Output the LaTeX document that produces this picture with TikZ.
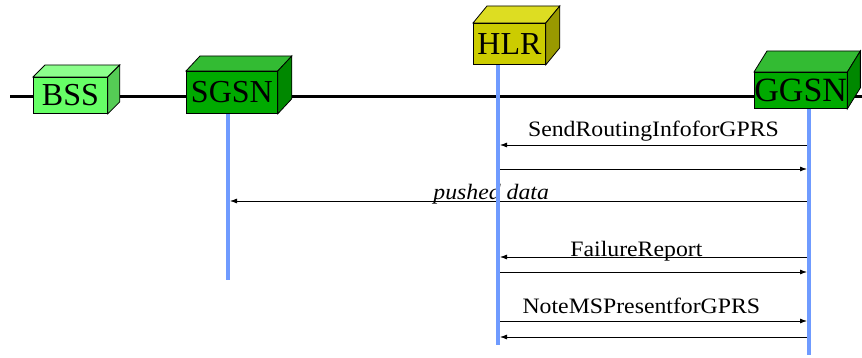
\documentclass[tikz,border=0pt]{standalone}
\usepackage{fontspec}
\setmainfont{Liberation Serif}
\newfontfamily\msgfont[FakeStretch=1.08]{Liberation Serif}
\usetikzlibrary{arrows.meta,positioning}
\definecolor{colorBSS}{HTML}{66FF66}
\definecolor{colorBSStop}{HTML}{8CFF8C}
\definecolor{colorBSSside}{HTML}{55CC55}
\definecolor{colorGSN}{HTML}{00AA00}
\definecolor{colorGSNtop}{HTML}{33BB33}
\definecolor{colorGSNside}{HTML}{008800}
\definecolor{colorHLR}{HTML}{CCCC00}
\definecolor{colorHLRtop}{HTML}{DDDD22}
\definecolor{colorHLRside}{HTML}{999900}
\definecolor{colorLife}{HTML}{6F9BFF}
\newcommand{\boxsides}[4]{%
  \filldraw[fill=#2, line width=0.8pt] (#1.north west) -- ++(#4) -- ([shift={(#4)}]#1.north east) -- (#1.north east) -- cycle;
  \filldraw[fill=#3, line width=0.8pt] (#1.north east) -- ++(#4) -- ([shift={(#4)}]#1.south east) -- (#1.south east) -- cycle;}

\begin{document}
\begin{tikzpicture}[x=1pt,y=1pt,>={Latex[length=7pt,width=5pt]},ent/.style={draw, line width=0.8pt, inner sep=0pt, anchor=north west, font=\fontsize{32}{32}\selectfont},life/.style={colorLife, line width=4pt},msg/.style={->, line width=0.8pt, shorten >=2pt, shorten <=2pt},lbl/.style={anchor=base, font=\msgfont\fontsize{22}{24}\selectfont},]
    \useasboundingbox (0,0) rectangle (862,-358);
    \coordinate (busl) at (10,-97);
    \coordinate (busr) at (862,-97);
    \draw[line width=3pt] (busl) -- (busr);
    \node [ent, fill=colorBSS, minimum width=74pt, minimum height=36pt] (BSS) at (33,-77) {BSS};
    \boxsides{BSS}{colorBSStop}{colorBSSside}{12,12}
    \node [ent, fill=colorGSN, minimum width=91pt, minimum height=42pt] (SGSN) at (186,-71) {SGSN};
    \boxsides{SGSN}{colorGSNtop}{colorGSNside}{14,15}
    \node [ent, fill=colorHLR, minimum width=72pt, minimum height=41pt] (HLR) at (473,-23) {HLR};
    \boxsides{HLR}{colorHLRtop}{colorHLRside}{14,17}
    \node [ent, fill=colorGSN, minimum width=92pt, minimum height=36pt, font=\fontsize{34}{34}\selectfont] (GGSN) at (754,-72) {GGSN};
    \boxsides{GGSN}{colorGSNtop}{colorGSNside}{13,21}
    % lifeline ends and message rows
    \coordinate (sgsnend) at (228,-280);
    \coordinate (hlrend) at (498,-345);
    \coordinate (ggsnend) at (809,-355);
    \coordinate (m1) at (0,-145);
    \coordinate (m2) at (0,-169);
    \coordinate (m3) at (0,-201);
    \coordinate (m4) at (0,-257);
    \coordinate (m5) at (0,-272);
    \coordinate (m6) at (0,-321);
    \coordinate (m7) at (0,-337);
    \path[msg] (ggsnend |- m1) edge node [lbl, yshift=8pt] {SendRoutingInfoforGPRS} (hlrend |- m1);
    \path[msg] (hlrend |- m2) edge (ggsnend |- m2);
    \path[msg] (ggsnend |- m3) edge node [lbl, pos=0.547, yshift=1pt] {\itshape pushed data} (sgsnend |- m3);
    \path[msg] (ggsnend |- m4) edge node [lbl, pos=0.555, yshift=1pt] {FailureReport} (hlrend |- m4);
    \path[msg] (hlrend |- m5) edge (ggsnend |- m5);
    \path[msg] (hlrend |- m6) edge node [lbl, pos=0.461, yshift=8pt] {NoteMSPresentforGPRS} (ggsnend |- m6);
    \path[msg] (ggsnend |- m7) edge (hlrend |- m7);
    \draw[life] (sgsnend |- SGSN.south) -- (sgsnend);
    \draw[life] (hlrend |- HLR.south) -- (hlrend);
    \draw[life] (ggsnend |- GGSN.south) -- (ggsnend);
\end{tikzpicture}
\end{document}
